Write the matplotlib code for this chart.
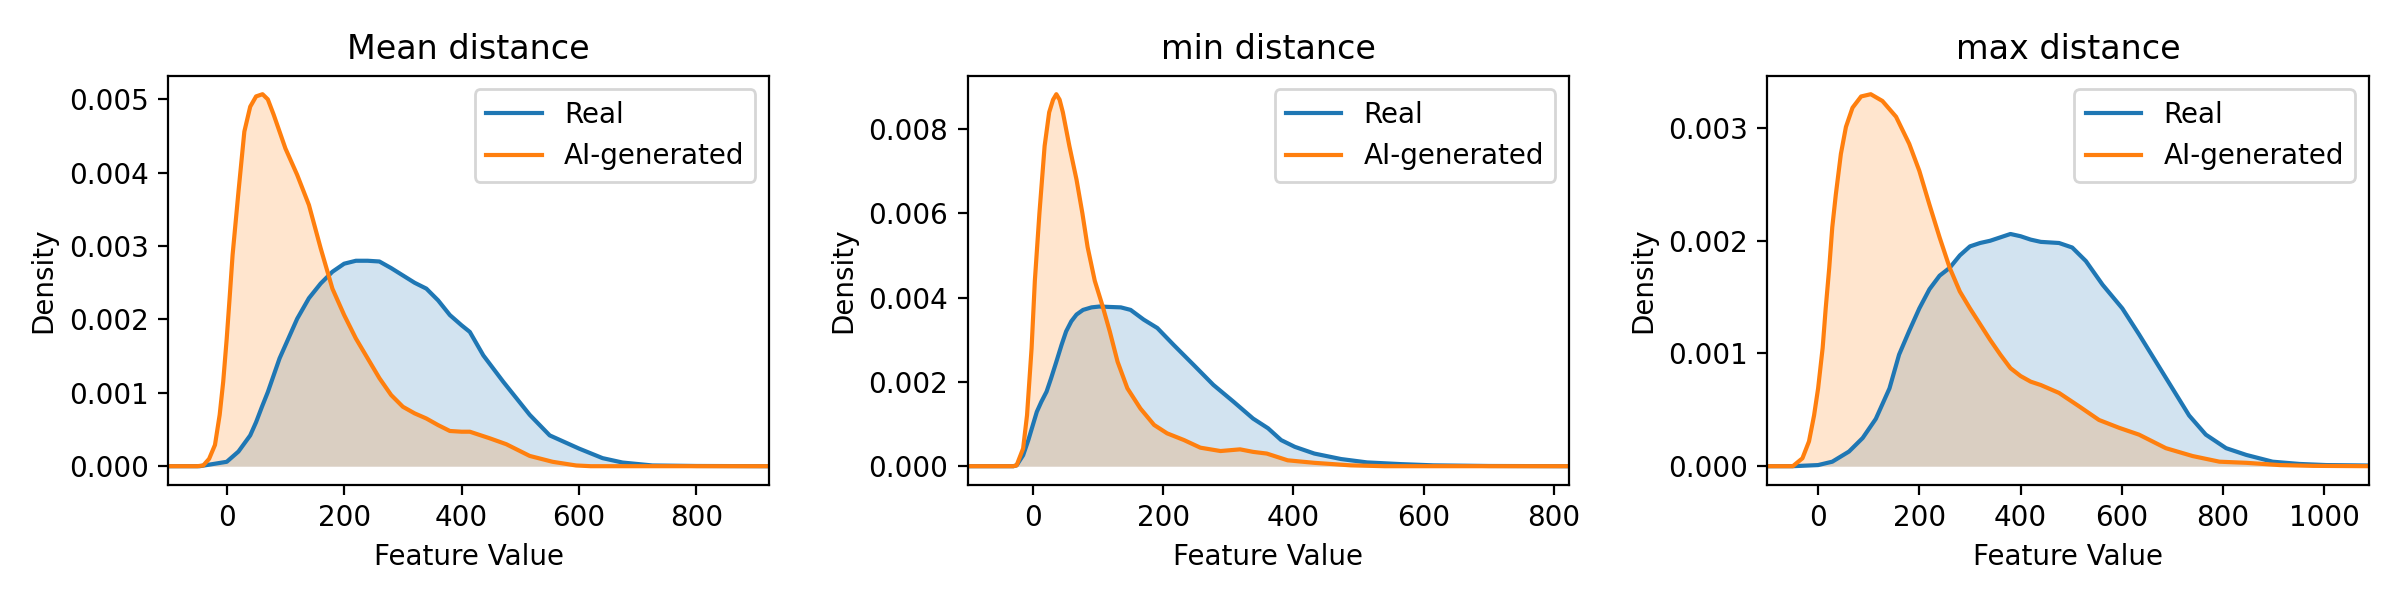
import matplotlib
matplotlib.use("Agg")
import matplotlib.pyplot as plt

titles = ["Mean distance", "min distance", "max distance"]
labels = ["Real", "AI-generated"]
xlims = [(-100, 924), (-100, 823), (-100, 1088)]

# --- Mean distance ---
mean_x_real = [-100, -46, 0, 20, 40, 50, 60, 70, 80, 90, 100, 110, 120, 140, 160, 180, 200, 220, 240,
               260, 280, 300, 320, 340, 360, 380, 400, 414, 437, 471, 516, 550, 600, 640, 674, 725,
               800, 924]
mean_y_real = [0, 0, 0.00006, 0.0002, 0.00042, 0.0006, 0.00081, 0.00101, 0.00124, 0.00147, 0.00165,
               0.00183, 0.00201, 0.00229, 0.00249, 0.00265, 0.00276, 0.0028, 0.0028, 0.00279, 0.0027,
               0.0026, 0.0025, 0.00242, 0.00226, 0.00206, 0.00192, 0.00183, 0.00151, 0.00115, 0.0007,
               0.00042, 0.00024, 0.00011, 0.00005, 0.00001, 0.000003, 0]
mean_x_ai = [-100, -50, -40, -30, -20, -12, -6, 0, 5, 10, 20, 30, 40, 50, 61, 70, 80, 90, 100, 110,
             120, 140, 160, 180, 200, 220, 240, 260, 280, 300, 320, 340, 360, 380, 400, 414, 448, 476,
             516, 555, 595, 620, 924]
mean_y_ai = [0, 0, 0.00001, 0.0001, 0.00029, 0.0007, 0.00115, 0.00174, 0.0023, 0.00288, 0.00374,
             0.00456, 0.0049, 0.00504, 0.00507, 0.005, 0.00479, 0.00456, 0.00433, 0.00415, 0.00397,
             0.00356, 0.00297, 0.00242, 0.00206, 0.00174, 0.00147, 0.0012, 0.00097, 0.00081, 0.00072,
             0.00065, 0.00056, 0.00048, 0.00047, 0.00047, 0.00038, 0.0003, 0.00014, 0.00006, 0.00001,
             0, 0]

# --- min distance ---
min_x_real = [-100, -30, -25, -15, -7, 0, 6, 13, 21, 28, 36, 44, 51, 59, 67, 77, 90, 102, 118, 135,
              150, 170, 191, 216, 247, 277, 308, 338, 361, 381, 402, 432, 473, 513, 564, 615, 700, 823]
min_y_real = [0, 0, 0.00002, 0.00026, 0.00062, 0.00098, 0.00129, 0.00153, 0.00177, 0.00209, 0.00248,
              0.00288, 0.0032, 0.00344, 0.0036, 0.00371, 0.00377, 0.00379, 0.00378, 0.00377, 0.00371,
              0.00348, 0.00328, 0.00288, 0.0024, 0.00193, 0.00153, 0.00113, 0.0009, 0.00062, 0.00046,
              0.0003, 0.00017, 0.00009, 0.00005, 0.00002, 0.000005, 0]
min_x_ai = [-100, -30, -25, -15, -9, -2, 3, 10, 18, 25, 31, 36, 41, 46, 56, 67, 76, 84, 95, 107, 118,
            130, 145, 165, 186, 206, 232, 257, 288, 318, 338, 359, 391, 432, 488, 540, 823]
min_y_ai = [0, 0, 0.00002, 0.00042, 0.00121, 0.0028, 0.0044, 0.006, 0.0076, 0.0084, 0.0087, 0.00883,
            0.0087, 0.0084, 0.0076, 0.0068, 0.006, 0.0052, 0.0044, 0.0038, 0.0032, 0.00248, 0.00185,
            0.00137, 0.00098, 0.00078, 0.00062, 0.00044, 0.00036, 0.0004, 0.00034, 0.0003, 0.00014,
            0.00008, 0.00002, 0, 0]

# --- max distance ---
max_x_real = [-100, -50, 0, 28, 61, 88, 114, 141, 160, 180, 200, 220, 240, 260, 280, 300, 320, 340,
              360, 380, 400, 420, 440, 476, 502, 529, 562, 601, 634, 667, 700, 733, 766, 806, 846, 898,
              951, 1004, 1088]
max_y_real = [0, 0, 0.00001, 0.00004, 0.00013, 0.00025, 0.00042, 0.00069, 0.00099, 0.0012, 0.0014,
              0.00157, 0.00169, 0.00176, 0.00187, 0.00195, 0.00198, 0.002, 0.00203, 0.00206, 0.00204,
              0.00201, 0.00199, 0.00198, 0.00194, 0.00182, 0.00161, 0.0014, 0.00117, 0.00093, 0.00069,
              0.00045, 0.00028, 0.00016, 0.0001, 0.00004, 0.00002, 0.00001, 0.000006]
max_x_ai = [-100, -50, -31, -18, -8, 0, 9, 15, 22, 28, 35, 45, 55, 68, 85, 104, 127, 154, 180, 200,
            220, 240, 260, 280, 300, 320, 340, 360, 380, 400, 420, 440, 476, 516, 555, 595, 634, 687,
            740, 793, 846, 912, 978, 1088]
max_y_ai = [0, 0, 0.00007, 0.00022, 0.00045, 0.00069, 0.00105, 0.0014, 0.00176, 0.00212, 0.00241,
            0.00277, 0.00301, 0.00318, 0.00328, 0.0033, 0.00324, 0.0031, 0.00286, 0.00262, 0.00232,
            0.00203, 0.00176, 0.00155, 0.0014, 0.00126, 0.00112, 0.00099, 0.00087, 0.0008, 0.00075,
            0.00072, 0.00065, 0.00053, 0.00041, 0.00034, 0.00028, 0.00016, 0.00009, 0.00004, 0.00003,
            0.00001, 0.000003, 0]

panels = [
    (mean_x_real, mean_y_real, mean_x_ai, mean_y_ai),
    (min_x_real, min_y_real, min_x_ai, min_y_ai),
    (max_x_real, max_y_real, max_x_ai, max_y_ai),
]

fig, axes = plt.subplots(1, 3, figsize=(12, 3), dpi=200)
fig.subplots_adjust(left=0.07, right=0.987, bottom=0.192, top=0.874, wspace=0.33)

for ax, title, xl, (xr, yr, xa, ya) in zip(axes, titles, xlims, panels):
    ax.fill_between(xr, yr, color="C0", alpha=0.2, linewidth=0)
    ax.plot(xr, yr, color="C0", lw=1.5, label=labels[0])
    ax.fill_between(xa, ya, color="C1", alpha=0.2, linewidth=0)
    ax.plot(xa, ya, color="C1", lw=1.5, label=labels[1])
    ax.set_xlim(xl)
    ax.set_title(title)
    ax.set_xlabel("Feature Value")
    ax.set_ylabel("Density")
    ax.legend(loc="upper right")

plt.savefig("out.png")
